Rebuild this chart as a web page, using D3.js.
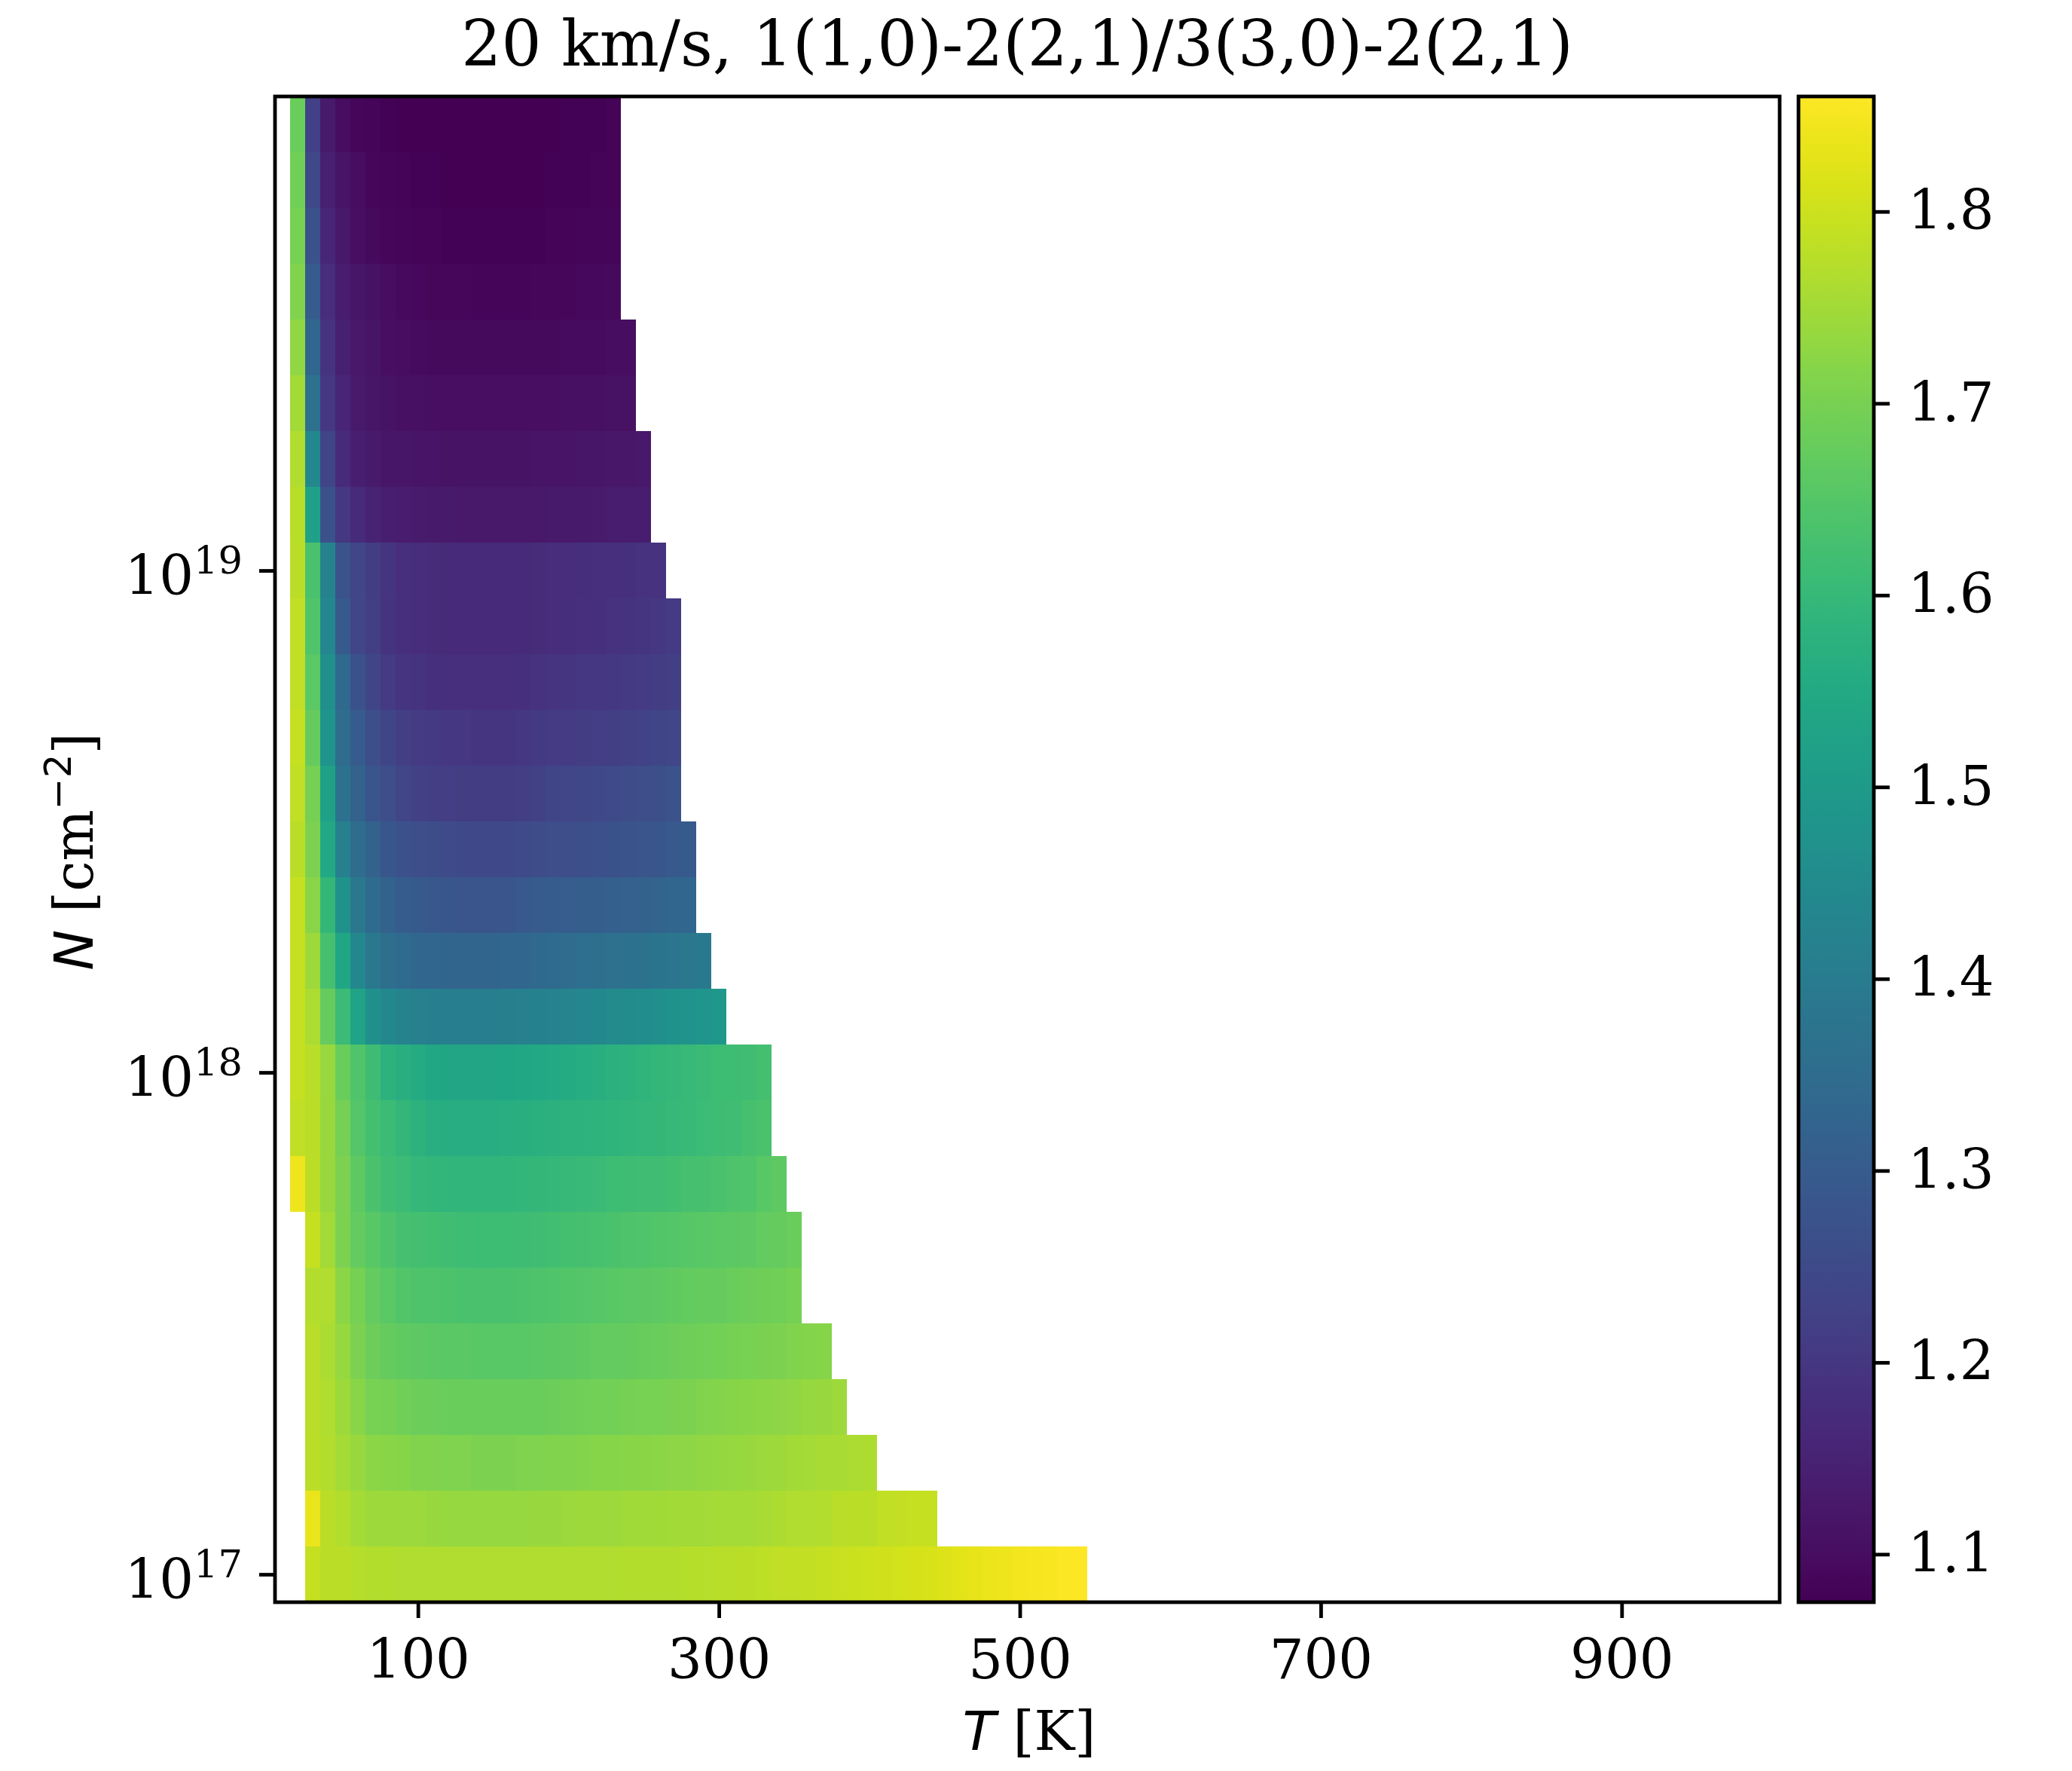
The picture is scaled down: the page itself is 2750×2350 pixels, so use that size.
<!DOCTYPE html>
<html>
<head>
<meta charset="utf-8">
<script src="https://cdn.jsdelivr.net/npm/d3@7/dist/d3.min.js"></script>
<style>
  body { margin: 0; background: #fff; }
  svg text { font-family: 'DejaVu Serif', serif; fill: #000; }
</style>
</head>
<body>
<svg id="chart"></svg>
<script>
const CHART_SIZE = { width: 2750, height: 2350 };
const PLOT = { left: 365, right: 2362, top: 128, bottom: 2126 };
const CBAR = { left: 2387, right: 2487 };
const LW = 4.8; // 0.8pt lines
const TICK = 21; // 3.5pt ticks

const TITLE = '20 km/s, 1(1,0)-2(2,1)/3(3,0)-2(2,1)';
const T_LIMITS = [5, 1005];

// temperature cell centres [K]; every row below starts at 20 K
const temps = [20, 30, 40, 50, 60, 70, 80, 90, 100, 110,
  120, 130, 140, 150, 160, 170, 180, 190, 200, 210,
  220, 230, 240, 250, 260, 270, 280, 290, 300, 310,
  320, 330, 340, 350, 360, 370, 380, 390, 400, 410,
  420, 430, 440, 450, 460, 470, 480, 490, 500, 510,
  520, 530, 540];

// log10 N [cm^-2] cell centres, bottom row first
const logN = [17.000, 17.111, 17.222, 17.333, 17.444, 17.556, 17.667, 17.778, 17.889,
  18.000, 18.111, 18.222, 18.333, 18.444, 18.556, 18.667, 18.778, 18.889,
  19.000, 19.111, 19.222, 19.333, 19.444, 19.556, 19.667, 19.778, 19.889];

const xTicks = [100, 300, 500, 700, 900];
const yTickExps = [17, 18, 19];
const cbarTicks = [1.1, 1.2, 1.3, 1.4, 1.5, 1.6, 1.7, 1.8];

// line ratio per row (null = no model)
const n00 = [null, 1.79, 1.78, 1.78, 1.772, 1.77, 1.77, 1.768, 1.768, 1.767,
  1.767, 1.766, 1.766, 1.766, 1.766, 1.766, 1.766, 1.767, 1.767, 1.767,
  1.768, 1.768, 1.769, 1.77, 1.77, 1.771, 1.772, 1.773, 1.775, 1.777,
  1.78, 1.782, 1.784, 1.786, 1.788, 1.79, 1.793, 1.796, 1.80, 1.802,
  1.805, 1.808, 1.812, 1.818, 1.825, 1.832, 1.836, 1.84, 1.845, 1.848,
  1.851, 1.855, 1.86];
const n01 = [null, 1.835, 1.78, 1.77, 1.755, 1.745, 1.745, 1.743, 1.742, 1.738,
  1.736, 1.735, 1.735, 1.735, 1.735, 1.736, 1.738, 1.74, 1.742, 1.744,
  1.745, 1.746, 1.747, 1.748, 1.749, 1.75, 1.75, 1.752, 1.753, 1.754,
  1.755, 1.758, 1.762, 1.765, 1.768, 1.77, 1.775, 1.778, 1.78, 1.785,
  1.788, 1.79, 1.792];
const n02 = [null, 1.78, 1.77, 1.755, 1.74, 1.725, 1.72, 1.718, 1.712, 1.71,
  1.708, 1.707, 1.706, 1.706, 1.706, 1.707, 1.708, 1.71, 1.712, 1.714,
  1.716, 1.718, 1.72, 1.722, 1.724, 1.726, 1.728, 1.73, 1.733, 1.736,
  1.74, 1.743, 1.746, 1.75, 1.753, 1.756, 1.758, 1.76, 1.762];
const n03 = [null, 1.775, 1.765, 1.745, 1.72, 1.70, 1.695, 1.69, 1.685, 1.683,
  1.682, 1.681, 1.68, 1.68, 1.68, 1.68, 1.682, 1.685, 1.688, 1.69,
  1.692, 1.694, 1.696, 1.698, 1.70, 1.703, 1.706, 1.71, 1.713, 1.716,
  1.72, 1.723, 1.726, 1.73, 1.735, 1.74, 1.745];
const n04 = [null, 1.775, 1.76, 1.735, 1.705, 1.685, 1.675, 1.668, 1.665, 1.662,
  1.66, 1.658, 1.657, 1.656, 1.656, 1.657, 1.66, 1.663, 1.666, 1.668,
  1.67, 1.672, 1.675, 1.678, 1.68, 1.683, 1.686, 1.69, 1.693, 1.696,
  1.70, 1.703, 1.706, 1.71, 1.713, 1.716];
const n05 = [null, 1.77, 1.765, 1.725, 1.695, 1.67, 1.66, 1.648, 1.642, 1.64,
  1.638, 1.636, 1.635, 1.635, 1.636, 1.638, 1.64, 1.643, 1.646, 1.65,
  1.653, 1.656, 1.66, 1.663, 1.666, 1.668, 1.67, 1.673, 1.676, 1.68,
  1.683, 1.686, 1.69, 1.695];
const n06 = [null, 1.79, 1.75, 1.705, 1.67, 1.655, 1.64, 1.628, 1.625, 1.622,
  1.618, 1.615, 1.614, 1.614, 1.615, 1.617, 1.62, 1.623, 1.626, 1.63,
  1.633, 1.636, 1.64, 1.643, 1.646, 1.65, 1.653, 1.656, 1.66, 1.663,
  1.666, 1.67, 1.675, 1.68];
const n07 = [1.84, 1.78, 1.74, 1.705, 1.665, 1.635, 1.62, 1.61, 1.598, 1.592,
  1.59, 1.588, 1.588, 1.589, 1.59, 1.592, 1.595, 1.598, 1.60, 1.605,
  1.608, 1.612, 1.615, 1.618, 1.62, 1.623, 1.627, 1.63, 1.635, 1.64,
  1.645, 1.655, 1.665];
const n08 = [1.785, 1.78, 1.74, 1.695, 1.65, 1.625, 1.61, 1.595, 1.578, 1.568,
  1.565, 1.564, 1.564, 1.565, 1.567, 1.57, 1.573, 1.576, 1.578, 1.58,
  1.582, 1.585, 1.588, 1.592, 1.596, 1.60, 1.605, 1.61, 1.615, 1.62,
  1.628, 1.635];
const n09 = [1.79, 1.775, 1.74, 1.68, 1.645, 1.615, 1.58, 1.57, 1.555, 1.542,
  1.538, 1.537, 1.537, 1.538, 1.54, 1.543, 1.547, 1.55, 1.555, 1.562,
  1.568, 1.575, 1.58, 1.586, 1.592, 1.598, 1.604, 1.608, 1.612, 1.615,
  1.62, 1.625];
const n10 = [1.79, 1.76, 1.675, 1.61, 1.53, 1.465, 1.44, 1.425, 1.415, 1.41,
  1.408, 1.407, 1.407, 1.408, 1.41, 1.413, 1.418, 1.423, 1.43, 1.436,
  1.442, 1.448, 1.455, 1.46, 1.466, 1.472, 1.478, 1.484, 1.49];
const n11 = [1.79, 1.745, 1.63, 1.54, 1.44, 1.39, 1.36, 1.345, 1.335, 1.33,
  1.328, 1.327, 1.327, 1.328, 1.33, 1.334, 1.34, 1.345, 1.35, 1.355,
  1.36, 1.364, 1.368, 1.372, 1.376, 1.38, 1.386, 1.392];
const n12 = [1.79, 1.72, 1.595, 1.475, 1.39, 1.345, 1.32, 1.30, 1.293, 1.288,
  1.285, 1.283, 1.282, 1.283, 1.285, 1.29, 1.296, 1.30, 1.302, 1.305,
  1.308, 1.312, 1.316, 1.32, 1.325, 1.33, 1.335];
const n13 = [1.78, 1.705, 1.545, 1.415, 1.35, 1.32, 1.285, 1.27, 1.262, 1.256,
  1.25, 1.247, 1.245, 1.245, 1.247, 1.25, 1.255, 1.26, 1.262, 1.264,
  1.266, 1.27, 1.275, 1.28, 1.285, 1.29, 1.295];
const n14 = [1.785, 1.695, 1.52, 1.37, 1.32, 1.28, 1.26, 1.238, 1.228, 1.222,
  1.218, 1.215, 1.213, 1.213, 1.215, 1.22, 1.228, 1.236, 1.24, 1.242,
  1.245, 1.25, 1.255, 1.26, 1.265, 1.275];
const n15 = [1.79, 1.675, 1.48, 1.35, 1.30, 1.26, 1.235, 1.22, 1.21, 1.205,
  1.20, 1.198, 1.196, 1.196, 1.197, 1.20, 1.205, 1.21, 1.212, 1.215,
  1.218, 1.222, 1.226, 1.23, 1.235, 1.24];
const n16 = [1.785, 1.66, 1.465, 1.34, 1.27, 1.235, 1.21, 1.195, 1.19, 1.185,
  1.182, 1.18, 1.18, 1.18, 1.181, 1.184, 1.188, 1.192, 1.195, 1.198,
  1.20, 1.203, 1.206, 1.21, 1.215, 1.22];
const n17 = [1.785, 1.645, 1.435, 1.295, 1.24, 1.22, 1.19, 1.18, 1.175, 1.172,
  1.17, 1.168, 1.168, 1.168, 1.169, 1.17, 1.172, 1.175, 1.178, 1.18,
  1.183, 1.186, 1.19, 1.195, 1.20, 1.21];
const n18 = [1.78, 1.635, 1.425, 1.275, 1.24, 1.215, 1.195, 1.18, 1.175, 1.172,
  1.17, 1.168, 1.168, 1.168, 1.168, 1.17, 1.172, 1.174, 1.176, 1.178,
  1.18, 1.182, 1.184, 1.186, 1.188];
const n19 = [1.775, 1.52, 1.27, 1.20, 1.17, 1.15, 1.14, 1.135, 1.132, 1.13,
  1.128, 1.127, 1.126, 1.126, 1.126, 1.127, 1.127, 1.128, 1.129, 1.13,
  1.132, 1.134, 1.136, 1.138];
const n20 = [1.765, 1.44, 1.235, 1.17, 1.14, 1.128, 1.12, 1.118, 1.116, 1.115,
  1.114, 1.114, 1.113, 1.113, 1.113, 1.114, 1.115, 1.116, 1.117, 1.118,
  1.12, 1.122, 1.124, 1.126];
const n21 = [1.75, 1.365, 1.20, 1.155, 1.13, 1.12, 1.113, 1.108, 1.106, 1.105,
  1.104, 1.103, 1.103, 1.103, 1.103, 1.104, 1.104, 1.105, 1.106, 1.107,
  1.108, 1.109, 1.11];
const n22 = [1.73, 1.335, 1.19, 1.145, 1.125, 1.115, 1.105, 1.10, 1.098, 1.096,
  1.095, 1.094, 1.094, 1.094, 1.094, 1.095, 1.095, 1.096, 1.097, 1.098,
  1.099, 1.10, 1.101];
const n23 = [1.71, 1.30, 1.175, 1.135, 1.12, 1.11, 1.10, 1.095, 1.092, 1.09,
  1.088, 1.088, 1.087, 1.087, 1.087, 1.087, 1.088, 1.089, 1.09, 1.091,
  1.093, 1.095];
const n24 = [1.70, 1.27, 1.16, 1.125, 1.105, 1.095, 1.09, 1.085, 1.083, 1.082,
  1.081, 1.08, 1.08, 1.08, 1.08, 1.08, 1.081, 1.082, 1.083, 1.085,
  1.086, 1.087];
const n25 = [1.69, 1.245, 1.145, 1.115, 1.10, 1.09, 1.085, 1.082, 1.08, 1.079,
  1.078, 1.078, 1.077, 1.077, 1.077, 1.078, 1.078, 1.079, 1.08, 1.081,
  1.082, 1.083];
const n26 = [1.68, 1.225, 1.13, 1.10, 1.09, 1.085, 1.08, 1.078, 1.077, 1.076,
  1.076, 1.075, 1.075, 1.075, 1.076, 1.076, 1.077, 1.078, 1.079, 1.08,
  1.081, 1.082];

const ratioRows = [n00, n01, n02, n03, n04, n05, n06, n07, n08, n09, n10, n11, n12, n13,
  n14, n15, n16, n17, n18, n19, n20, n21, n22, n23, n24, n25, n26];

const cells = [];
ratioRows.forEach((row, i) => {
  row.forEach((v, j) => {
    if (v !== null) cells.push({ T: temps[j], logN: logN[i], v });
  });
});

const halfT = (temps[1] - temps[0]) / 2;
const halfN = (logN[1] - logN[0]) / 2;

const svg = d3.select('#chart')
  .attr('width', CHART_SIZE.width)
  .attr('height', CHART_SIZE.height);

const x = d3.scaleLinear().domain(T_LIMITS).range([PLOT.left, PLOT.right]);
const y = d3.scaleLog()
  .domain([10 ** (logN[0] - halfN), 10 ** (logN[logN.length - 1] + halfN)])
  .range([PLOT.bottom, PLOT.top]);
const color = d3.scaleSequential(d3.interpolateViridis)
  .domain(d3.extent(cells, d => d.v));

// heatmap cells
const px = v => Math.round(v);
svg.append('g')
  .attr('class', 'cells')
  .attr('shape-rendering', 'crispEdges')
  .selectAll('rect')
  .data(cells)
  .join('rect')
  .attr('x', d => px(x(d.T - halfT)))
  .attr('width', d => px(x(d.T + halfT)) - px(x(d.T - halfT)))
  .attr('y', d => px(y(10 ** (d.logN + halfN))))
  .attr('height', d => px(y(10 ** (d.logN - halfN))) - px(y(10 ** (d.logN + halfN))))
  .attr('fill', d => color(d.v));

// x axis
const xAxis = d3.axisBottom(x)
  .tickValues(xTicks)
  .tickSize(TICK)
  .tickPadding(29)
  .tickFormat(d3.format('d'));
const gx = svg.append('g')
  .attr('transform', `translate(0,${PLOT.bottom})`)
  .call(xAxis);

// y axis
const yAxis = d3.axisLeft(y)
  .tickValues(yTickExps.map(e => 10 ** e))
  .tickSize(TICK)
  .tickPadding(22)
  .tickFormat(() => '');
const gy = svg.append('g')
  .attr('transform', `translate(${PLOT.left},0)`)
  .call(yAxis);
gy.selectAll('.tick text')
  .attr('dy', null)
  .attr('y', 31)
  .each(function(d) {
    const t = d3.select(this);
    t.text('10');
    t.append('tspan')
      .attr('dy', -28)
      .attr('font-size', 51)
      .text(Math.round(Math.log10(d)));
  });

[gx, gy].forEach(g => {
  g.select('.domain').remove();
  g.attr('font-size', 72).attr('font-family', 'DejaVu Serif');
  g.selectAll('.tick line').attr('stroke', '#000').attr('stroke-width', LW);
});

// frame
svg.append('rect')
  .attr('x', PLOT.left)
  .attr('y', PLOT.top)
  .attr('width', PLOT.right - PLOT.left)
  .attr('height', PLOT.bottom - PLOT.top)
  .attr('fill', 'none')
  .attr('stroke', '#000')
  .attr('stroke-width', LW);

// colorbar
const grad = svg.append('defs')
  .append('linearGradient')
  .attr('id', 'cbar-grad')
  .attr('x1', 0).attr('y1', 1).attr('x2', 0).attr('y2', 0);
grad.selectAll('stop')
  .data(d3.range(0, 1.0001, 0.02))
  .join('stop')
  .attr('offset', d => d)
  .attr('stop-color', d => d3.interpolateViridis(d));

svg.append('rect')
  .attr('x', CBAR.left)
  .attr('y', PLOT.top)
  .attr('width', CBAR.right - CBAR.left)
  .attr('height', PLOT.bottom - PLOT.top)
  .attr('fill', 'url(#cbar-grad)')
  .attr('stroke', '#000')
  .attr('stroke-width', LW);

const cScale = d3.scaleLinear()
  .domain(color.domain())
  .range([PLOT.bottom, PLOT.top]);
const gc = svg.append('g')
  .attr('transform', `translate(${CBAR.right},0)`)
  .call(d3.axisRight(cScale)
    .tickValues(cbarTicks)
    .tickSize(TICK)
    .tickPadding(24)
    .tickFormat(d3.format('.1f')));
gc.select('.domain').remove();
gc.attr('font-size', 72).attr('font-family', 'DejaVu Serif');
gc.selectAll('.tick line').attr('stroke', '#000').attr('stroke-width', LW);

// title
svg.append('text')
  .attr('x', 1350)
  .attr('y', 87)
  .attr('text-anchor', 'middle')
  .attr('font-size', 83.5)
  .text(TITLE);

// x label
const xl = svg.append('text')
  .attr('x', 1366)
  .attr('y', 2322)
  .attr('text-anchor', 'middle')
  .attr('font-size', 72);
xl.append('tspan').attr('font-family', 'DejaVu Sans').attr('font-style', 'oblique').text('T');
xl.append('tspan').text(' [K]');

// y label
const yl = svg.append('text')
  .attr('transform', 'translate(123,1130) rotate(-90)')
  .attr('text-anchor', 'middle')
  .attr('font-size', 72);
yl.append('tspan').attr('font-family', 'DejaVu Sans').attr('font-style', 'oblique').text('N');
yl.append('tspan').text(' [cm');
yl.append('tspan').attr('font-family', 'DejaVu Sans').attr('font-size', 50).attr('dy', -29).text('\u22122');
yl.append('tspan').attr('dy', 29).text(']');
</script>
</body>
</html>
